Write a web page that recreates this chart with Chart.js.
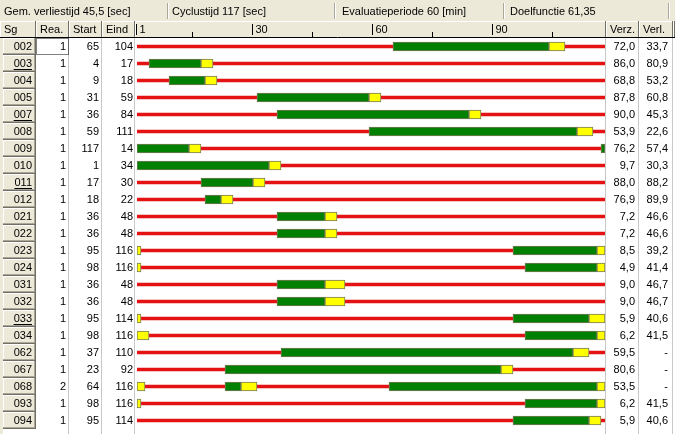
<!DOCTYPE html>
<html>
<head>
<meta charset="utf-8">
<script src="https://cdn.jsdelivr.net/npm/chart.js@4"></script>
<style>
  html, body { margin: 0; padding: 0; background: #fff; }
  canvas { display: block; }
</style>
</head>
<body>
<canvas id="fase-chart" width="675" height="434"></canvas>
<script>
// Fasediagram - regeling, cyclustijd 117 sec

var cycle = 117;
var signalGroups = ['002','003','004','005','007','008','009','010','011','012','021','022','023','024','031','032','033','034','062','067','068','093','094'];
var underlined = ['003','007','011','033'];
var realisations = [1,1,1,1,1,1,1,1,1,1,1,1,1,1,1,1,1,1,1,1,2,1,1];
var startTimes = [65,4,9,31,36,59,117,1,17,18,36,36,95,98,36,36,95,98,37,23,64,98,95];
var endTimes = [104,17,18,59,84,111,14,34,30,22,48,48,116,116,48,48,114,116,110,92,116,116,114];
var delays = ['72,0','86,0','68,8','87,8','90,0','53,9','76,2','9,7','88,0','76,9','7,2','7,2','8,5','4,9','9,0','9,0','5,9','6,2','59,5','80,6','53,5','6,2','5,9'];
var losses = ['33,7','80,9','53,2','60,8','45,3','22,6','57,4','30,3','88,2','89,9','46,6','46,6','39,2','41,4','46,7','46,7','40,6','41,5','-','-','-','41,5','40,6'];
var majorTicks = [1, 30, 60, 90];
var minorTicks = [15, 45, 75, 105];

// groen / geel blokken (sec in cyclus)
var greenA = [[65,104],[4,17],[9,18],[31,59],[36,84],[59,111],[1,14],[1,34],[17,30],[18,22],[36,48],[36,48],[95,116],[98,116],[36,48],[36,48],[95,114],[98,116],[37,110],[23,92],[23,27],[98,116],[95,114]];
var greenB = [null,null,null,null,null,null,[117,118],null,null,null,null,null,null,null,null,null,null,null,null,null,[64,116],null,null];
var yellowA = [[104,108],[17,20],[18,21],[59,62],[84,87],[111,115],[14,17],[34,37],[30,33],[22,25],[48,51],[48,51],[116,118],[116,118],[48,53],[48,53],[114,118],[116,118],[110,114],[92,95],[27,31],[116,118],[114,117]];
var yellowB = [null,null,null,null,null,null,null,null,null,null,null,null,[1,2],[1,2],null,null,[1,2],[1,4],null,null,[116,118],[1,2],null];
var yellowC = [null,null,null,null,null,null,null,null,null,null,null,null,null,null,null,null,null,null,null,null,[1,3],null,null];
var redLine = signalGroups.map(function () { return [1, cycle + 1]; });

var FONT = '11px "Liberation Sans", Arial, sans-serif';
var FACE = '#ECE9D8', SHADOW = '#ACA899', DARK = '#716F64';

function line(c, x0, y0, x1, y1, col) {
  c.strokeStyle = col;
  c.beginPath();
  c.moveTo(x0, y0);
  c.lineTo(x1, y1);
  c.stroke();
}

function headerCell(c, x0, x1, text) {
  c.fillStyle = FACE;
  c.fillRect(x0, 21, x1 - x0, 16);
  line(c, x0, 21.5, x1, 21.5, '#fff');
  line(c, x0 + 0.5, 21, x0 + 0.5, 37, '#fff');
  line(c, x1 - 0.5, 21, x1 - 0.5, 37, DARK);
  if (text) {
    c.fillStyle = '#000';
    c.fillText(text, x0 + 4, 29.5);
  }
}

const tablePlugin = {
  id: 'table',
  beforeDraw(chart) {
    const c = chart.ctx;
    const xs = chart.scales.x;
    c.save();
    c.lineWidth = 1;
    c.fillStyle = '#fff';
    c.fillRect(0, 0, chart.width, chart.height);

    // statusbalk
    c.fillStyle = FACE;
    c.fillRect(0, 0, chart.width, 21);
    c.font = FONT;
    c.textBaseline = 'middle';
    c.textAlign = 'left';
    [[4, 'Gem. verliestijd 45,5 [sec]'], [172, 'Cyclustijd 117 [sec]'], [342, 'Evaluatieperiode 60 [min]'], [510, 'Doelfunctie 61,35']].forEach(function (p) {
      c.fillStyle = '#000';
      c.fillText(p[1], p[0], 12);
    });
    [168, 335, 504, 669].forEach(function (x) {
      line(c, x - 0.5, 3, x - 0.5, 19, SHADOW);
      line(c, x + 0.5, 3, x + 0.5, 19, '#fff');
    });

    // kolomkoppen
    headerCell(c, 0, 36, 'Sg');
    headerCell(c, 36, 69, 'Rea.');
    headerCell(c, 69, 102, 'Start');
    headerCell(c, 102, 135, 'Eind');
    headerCell(c, 135, 606, '');
    headerCell(c, 606, 639, 'Verz.');
    headerCell(c, 639, 673, 'Verl.');
    headerCell(c, 673, 675, '');
    line(c, 0, 37.5, chart.width, 37.5, '#000');

    majorTicks.forEach(function (t) {
      const px = Math.round(xs.getPixelForValue(t)) - 0.5;
      line(c, px, 24, px, 35, '#000');
      c.fillStyle = '#000';
      c.fillText(String(t), px + 3, 29.5);
    });
    minorTicks.forEach(function (t) {
      const px = Math.round(xs.getPixelForValue(t)) - 0.5;
      line(c, px, 32, px, 37, '#000');
    });

    // body
    c.fillStyle = FACE;
    c.fillRect(0, 38, 3, chart.height - 38);
    [69, 102, 135, 606, 639, 673].forEach(function (x) {
      line(c, x - 0.5, 38, x - 0.5, chart.height, '#C8C8C8');
    });
    c.restore();
  },
  afterDraw(chart) {
    const c = chart.ctx;
    const ys = chart.scales.y;
    c.save();
    c.lineWidth = 1;
    c.font = FONT;
    c.textBaseline = 'middle';
    signalGroups.forEach(function (sg, i) {
      const cy = ys.getPixelForValue(i);
      const top = Math.round(cy - 8.5);
      // knop
      c.fillStyle = FACE;
      c.fillRect(3, top, 33, 17);
      line(c, 3, top + 0.5, 36, top + 0.5, '#fff');
      line(c, 3.5, top, 3.5, top + 17, '#fff');
      line(c, 3, top + 15.5, 36, top + 15.5, SHADOW);
      line(c, 34.5, top, 34.5, top + 16, SHADOW);
      line(c, 3, top + 16.5, 36, top + 16.5, DARK);
      line(c, 35.5, top, 35.5, top + 17, DARK);

      c.fillStyle = '#000';
      c.textAlign = 'right';
      c.fillText(sg, 32, cy);
      if (underlined.indexOf(sg) >= 0) {
        const w = c.measureText(sg).width;
        line(c, 32 - w, Math.round(cy) + 5.5, 32, Math.round(cy) + 5.5, '#000');
      }
      c.fillText(String(realisations[i]), 66, cy);
      c.fillText(String(startTimes[i]), 99, cy);
      c.fillText(String(endTimes[i]), 133, cy);
      c.fillText(delays[i], 635, cy);
      c.fillText(losses[i], 668, cy);
    });
    // focus rand
    const t0 = Math.round(ys.getPixelForValue(0) - 8.5);
    c.setLineDash([1, 1]);
    c.strokeStyle = '#000';
    c.strokeRect(36.5, t0 + 0.5, 32, 16);
    c.restore();
  }
};

var barBase = { borderColor: '#7A7A5C', borderWidth: 1, borderSkipped: false, barThickness: 9, grouped: false };

var ctx = document.getElementById('fase-chart').getContext('2d');
var config = {
  type: 'bar',
  data: {
    labels: signalGroups,
    datasets: [
      Object.assign({ label: 'geel', data: yellowA, backgroundColor: '#FFFF00', order: 1 }, barBase),
      Object.assign({ label: 'geel 2', data: yellowB, backgroundColor: '#FFFF00', order: 1 }, barBase),
      Object.assign({ label: 'geel 3', data: yellowC, backgroundColor: '#FFFF00', order: 1 }, barBase),
      Object.assign({ label: 'groen', data: greenA, backgroundColor: '#008000', order: 2 }, barBase),
      Object.assign({ label: 'groen 2', data: greenB, backgroundColor: '#008000', order: 2 }, barBase),
      { label: 'rood', data: redLine, backgroundColor: '#E41212', borderWidth: 0, barThickness: 3, grouped: false, order: 3 }
    ]
  },
  options: {
    indexAxis: 'y',
    responsive: false,
    animation: false,
    devicePixelRatio: 1,
    layout: { padding: { left: 137, right: 70, top: 38, bottom: 5 } },
    plugins: { legend: { display: false }, tooltip: { enabled: false } },
    scales: {
      x: { type: 'linear', min: 1, max: cycle + 1, display: false },
      y: { type: 'category', display: false, offset: true }
    }
  },
  plugins: [tablePlugin]
};
var myChart = new Chart(ctx, config);
</script>
</body>
</html>
